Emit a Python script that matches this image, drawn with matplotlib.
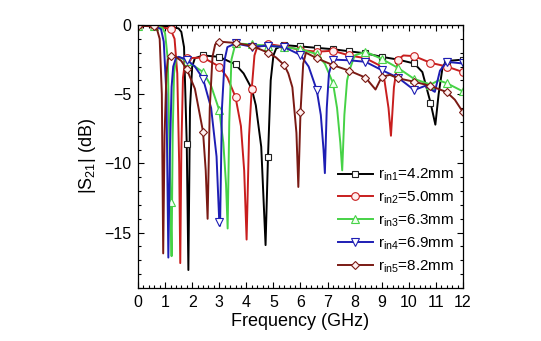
import matplotlib
matplotlib.use("Agg")
import matplotlib.pyplot as plt
from matplotlib.ticker import MultipleLocator

plt.rcParams['font.family'] = ['Liberation Sans', 'DejaVu Sans']
plt.rcParams['mathtext.fontset'] = 'custom'
plt.rcParams['mathtext.rm'] = 'Liberation Sans'

# ---- data ----
f1 = [0, 0.6, 1.2, 1.5, 1.6, 1.7, 1.8, 1.86, 1.92, 2.0, 2.1, 2.4, 3.0, 3.6, 3.9, 4.2, 4.35, 4.55, 4.71, 4.8,
      4.9, 5.0, 5.1, 5.4, 6.0, 6.6, 7.2, 7.8, 8.4, 9.0, 9.6, 10.2, 10.5, 10.8, 10.98, 11.1, 11.25, 11.4, 12.0]
s1 = [-0.05, -0.05, -0.12, -0.25, -0.5, -1.6, -8.6, -17.7, -6.0, -3.0, -2.4, -2.2, -2.3, -2.85, -3.5, -4.6,
      -5.8, -8.8, -15.9, -9.5, -4.0, -2.2, -1.7, -1.45, -1.55, -1.65, -1.75, -1.9, -2.05, -2.3, -2.5, -2.78,
      -3.4, -5.6, -7.2, -5.0, -3.0, -2.6, -2.5]

f2 = [0, 0.6, 1.2, 1.35, 1.45, 1.52, 1.56, 1.6, 1.66, 1.75, 1.8, 2.4, 3.0, 3.3, 3.6, 3.8, 3.92, 4.01, 4.1,
      4.2, 4.3, 4.4, 4.8, 5.4, 6.0, 6.6, 7.2, 7.8, 8.4, 8.9, 9.1, 9.25, 9.34, 9.45, 9.6, 9.8, 10.2, 10.8,
      11.4, 12.0]
s2 = [-0.05, -0.05, -0.3, -1.0, -3.5, -10.0, -17.2, -9.0, -3.8, -2.5, -2.4, -2.35, -3.0, -3.8, -5.2, -7.3,
      -10.5, -15.5, -8.0, -4.6, -2.2, -1.6, -1.38, -1.55, -1.8, -1.93, -1.86, -2.2, -2.4, -2.9, -4.0, -6.0,
      -8.0, -4.5, -2.5, -2.2, -2.25, -2.73, -3.0, -3.4]

f3 = [0, 0.6, 0.9, 1.0, 1.1, 1.2, 1.24, 1.28, 1.33, 1.4, 1.5, 1.8, 2.4, 2.7, 3.0, 3.15, 3.25, 3.31, 3.37,
      3.45, 3.6, 4.2, 4.8, 5.4, 6.0, 6.6, 6.9, 7.2, 7.35, 7.47, 7.54, 7.62, 7.72, 7.82, 8.0, 8.4, 9.0, 9.6,
      10.2, 10.8, 11.1, 11.4, 12.0]
s3 = [-0.05, -0.05, -0.2, -0.6, -2.5, -12.8, -16.7, -8.0, -3.5, -2.5, -2.3, -2.6, -3.4, -4.4, -6.16, -8.5,
      -11.5, -14.7, -7.0, -2.5, -1.33, -1.4, -1.5, -1.6, -1.75, -2.1, -2.8, -4.2, -6.0, -8.5, -10.5, -6.5,
      -4.0, -3.2, -2.2, -1.93, -2.45, -3.1, -3.9, -4.3, -4.0, -4.2, -4.8]

f4 = [0, 0.6, 0.85, 0.95, 1.05, 1.12, 1.18, 1.24, 1.3, 1.4, 1.5, 1.8, 2.1, 2.4, 2.7, 2.9, 3.0, 3.03, 3.1,
      3.2, 3.3, 3.6, 4.2, 4.8, 5.4, 6.0, 6.3, 6.6, 6.75, 6.85, 6.9, 6.97, 7.05, 7.2, 7.8, 8.4, 9.0, 9.6,
      10.2, 10.6, 10.96, 11.15, 11.4, 12.0]
s4 = [-0.05, -0.05, -0.3, -1.2, -5.0, -16.8, -9.0, -4.47, -3.0, -2.4, -2.3, -2.5, -3.0, -3.87, -6.0, -9.5,
      -14.2, -14.5, -6.0, -2.5, -1.6, -1.33, -1.57, -1.5, -1.6, -2.17, -3.0, -4.7, -6.5, -9.0, -10.7, -6.0,
      -3.5, -2.5, -2.55, -2.66, -3.26, -3.8, -4.7, -4.4, -4.83, -3.3, -2.66, -2.78]

f5 = [0, 0.6, 0.7, 0.8, 0.88, 0.93, 0.98, 1.05, 1.1, 1.2, 1.4, 1.6, 1.8, 2.1, 2.4, 2.5, 2.57, 2.65, 2.75,
      2.85, 3.0, 3.6, 4.2, 4.8, 5.1, 5.4, 5.55, 5.7, 5.85, 5.92, 6.0, 6.1, 6.2, 6.6, 7.2, 7.8, 8.4, 8.77,
      9.0, 9.3, 9.6, 10.2, 10.8, 11.4, 11.7, 12.0]
s5 = [-0.05, -0.1, -0.3, -1.0, -5.0, -16.5, -8.0, -3.5, -2.5, -2.25, -2.3, -2.6, -3.2, -4.6, -7.7, -10.5,
      -14.0, -6.0, -2.3, -1.4, -1.2, -1.3, -1.5, -2.0, -2.35, -2.9, -3.5, -4.5, -7.8, -11.7, -6.3, -2.8,
      -2.0, -2.4, -2.9, -3.3, -3.8, -4.66, -3.75, -3.6, -3.85, -4.1, -4.4, -4.85, -5.4, -6.3]

labels = [r'$\mathregular{r_{in1}}$=4.2mm', r'$\mathregular{r_{in2}}$=5.0mm',
          r'$\mathregular{r_{in3}}$=6.3mm', r'$\mathregular{r_{in4}}$=6.9mm',
          r'$\mathregular{r_{in5}}$=8.2mm']

series = [(f1, s1), (f2, s2), (f3, s3), (f4, s4), (f5, s5)]
colors = ['#000000', '#c81e1e', '#46d246', '#1e1eb4', '#7a1a14']
markers = ['s', 'o', '^', 'v', 'D']
mfaces = ['white', '#fff0f0', '#f0fff0', 'white', '#fff0f0']
msizes = [5, 5.5, 6, 6, 4.5]

fig = plt.figure(figsize=(5.41, 3.41), dpi=100)
ax = fig.add_axes([0.2551, 0.1554, 0.6007, 0.7713])

for (fx, sy), c, m, mf, ms, lab in zip(series, colors, markers, mfaces, msizes, labels):
    idx = [i for i, v in enumerate(fx) if abs(v / 0.6 - round(v / 0.6)) < 1e-6]
    ax.plot(fx, sy, color=c, lw=1.4, marker=m, markevery=idx, ms=ms,
            mfc=mf, mec=c if c != '#000000' else '#222222', mew=0.8, label=lab, clip_on=True)

ax.set_xlim(0, 12)
ax.set_ylim(-19, 0)
ax.xaxis.set_major_locator(MultipleLocator(1))
ax.xaxis.set_minor_locator(MultipleLocator(0.2))
ax.yaxis.set_major_locator(MultipleLocator(5))
ax.yaxis.set_minor_locator(MultipleLocator(1))
ax.tick_params(which='both', direction='in', top=True, right=True, labelsize=11.5, width=0.8)
ax.tick_params(which='major', length=4.5, pad=5)
ax.tick_params(which='minor', length=2.5)
for sp in ax.spines.values():
    sp.set_linewidth(0.9)

ax.set_xlabel('Frequency (GHz)', fontsize=13, labelpad=2)
ax.set_ylabel(r'$\mathregular{|S_{21}|}$ (dB)', fontsize=13, labelpad=4)

ax.legend(loc='upper left', bbox_to_anchor=(0.615, 0.46), frameon=False, fontsize=11,
          handlelength=2.3, handletextpad=0.35, labelspacing=0.42, borderpad=0, borderaxespad=0)

fig.savefig('out.png', dpi=100)
